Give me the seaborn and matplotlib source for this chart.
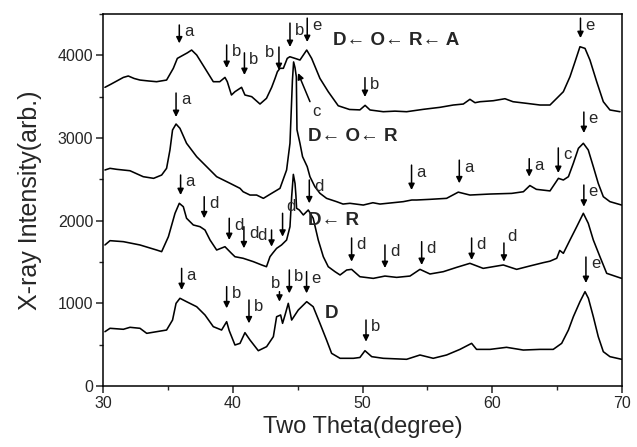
import numpy as np
import pandas as pd
import matplotlib
matplotlib.use("Agg")
import matplotlib.pyplot as plt
from matplotlib.ticker import MultipleLocator
import seaborn as sns

# ---- XRD patterns (two-theta in degrees, intensity in arb. units) ----
tt_dora = [30.15, 30.6, 31.57, 31.95, 32.4, 32.85, 33.5, 34.13, 34.9, 35.42, 35.73, 36.06,
           36.5, 36.83, 37.22, 37.86, 38.5, 39.0, 39.4, 39.58, 39.9, 40.17, 40.68, 40.94,
           41.46, 42.1, 42.6, 43.0, 43.26, 43.44, 43.64, 43.9, 44.2, 44.4, 44.8, 45.18,
           45.7, 46.08, 46.72, 47.36, 48.13, 49.0, 49.8, 50.2, 50.58, 51.6, 52.5, 53.4,
           54.7, 55.97, 57.0, 57.77, 58.28, 58.67, 59.06, 60.08, 60.98, 61.6, 62.66, 63.68,
           64.45, 64.97, 65.48, 65.99, 66.38, 66.76, 67.15, 67.53, 68.05, 68.56, 69.07, 69.85]
i_dora = [3613, 3650, 3733, 3750, 3720, 3701, 3690, 3681, 3701, 3843, 3963, 3992,
          4030, 4064, 4004, 3843, 3681, 3681, 3733, 3681, 3520, 3560, 3613, 3520,
          3500, 3411, 3480, 3613, 3721, 3802, 3843, 3843, 3963, 3983, 3963, 3943,
          4064, 3963, 3721, 3560, 3390, 3345, 3340, 3395, 3339, 3318, 3325, 3318,
          3347, 3371, 3399, 3411, 3468, 3427, 3439, 3451, 3475, 3439, 3419, 3399,
          3399, 3480, 3560, 3741, 3923, 4104, 4084, 3943, 3681, 3439, 3339, 3318]

tt_dor = [30.15, 30.54, 31.06, 32.08, 33.1, 33.9, 34.52, 34.9, 35.16, 35.36, 35.63, 35.93,
          36.44, 37.22, 37.99, 38.76, 39.79, 40.56, 40.8, 41.33, 41.84, 42.36, 43.0, 43.64,
          44.15, 44.41, 44.6, 44.69, 44.8, 44.9, 44.95, 45.18, 45.38, 45.74, 45.95, 46.33,
          46.72, 47.23, 48.0, 48.5, 49.03, 50.06, 50.8, 51.35, 53.14, 53.8, 54.17, 55.2,
          56.48, 57.38, 58.28, 59.8, 61.5, 62.4, 62.9, 63.4, 64.45, 65.1, 65.48, 65.87,
          66.25, 66.64, 67.02, 67.4, 67.79, 68.17, 68.56, 69.07, 69.97]
i_dor = [2613, 2633, 2621, 2604, 2532, 2512, 2552, 2633, 2855, 3097, 3169, 3117,
         2936, 2774, 2653, 2532, 2452, 2391, 2350, 2310, 2310, 2270, 2331, 2391,
         2613, 2936, 3700, 3920, 3850, 3740, 3100, 2936, 2774, 2653, 2532, 2411,
         2331, 2270, 2230, 2201, 2210, 2189, 2217, 2201, 2230, 2250, 2250, 2258,
         2270, 2345, 2310, 2322, 2330, 2350, 2425, 2379, 2360, 2512, 2492, 2532,
         2694, 2875, 2936, 2855, 2653, 2451, 2290, 2230, 2189]

tt_dr = [30.15, 30.54, 31.57, 32.85, 34.13, 34.52, 35.04, 35.55, 35.88, 36.19, 36.44, 36.96,
         37.48, 37.86, 38.25, 38.76, 39.4, 39.9, 40.17, 40.8, 41.59, 42.23, 42.6, 42.87,
         43.07, 43.38, 43.76, 44.15, 44.41, 44.54, 44.67, 44.8, 44.87, 44.92, 45.13, 45.44,
         45.82, 46.2, 46.59, 46.98, 47.36, 47.88, 48.27, 48.78, 49.16, 49.8, 50.83, 51.73,
         52.63, 53.66, 54.43, 55.2, 56.23, 57.25, 58.28, 59.3, 60.85, 61.88, 62.9, 63.93,
         64.45, 64.97, 65.2, 65.48, 65.99, 66.51, 67.02, 67.4, 67.79, 68.3, 68.82, 69.59, 69.97]
i_dr = [1706, 1758, 1746, 1706, 1645, 1625, 1806, 2089, 2210, 2169, 2029, 1948,
        1927, 1887, 1766, 1645, 1685, 1605, 1564, 1545, 1504, 1464, 1443, 1564,
        1605, 1665, 1706, 1766, 1927, 2290, 2560, 2450, 2300, 2150, 2129, 2069,
        2129, 2029, 1766, 1564, 1443, 1383, 1343, 1403, 1411, 1322, 1302, 1330,
        1314, 1330, 1411, 1355, 1383, 1435, 1484, 1423, 1464, 1411, 1452, 1492,
        1510, 1545, 1640, 1605, 1766, 1927, 2089, 1968, 1766, 1564, 1363, 1322, 1302]

tt_d = [30.15, 30.54, 31.57, 32.08, 32.85, 33.37, 34.13, 34.9, 35.36, 35.63, 35.93, 36.44,
        37.22, 37.86, 38.5, 39.14, 39.53, 39.73, 40.17, 40.56, 40.94, 41.33, 41.97, 42.61,
        43.13, 43.38, 43.69, 43.84, 44.03, 44.28, 44.54, 45.05, 45.7, 46.2, 46.72, 47.23,
        47.62, 48.27, 49.3, 49.8, 50.19, 50.71, 51.6, 53.4, 54.43, 55.45, 56.48, 57.51,
        58.41, 58.79, 59.83, 61.1, 62.39, 63.68, 64.7, 65.35, 65.87, 66.25, 66.76, 67.15,
        67.41, 67.79, 68.17, 68.56, 69.07, 69.97]
i_d = [657, 698, 686, 710, 698, 637, 657, 677, 798, 1000, 1061, 1020,
       959, 859, 718, 677, 778, 669, 496, 516, 645, 556, 427, 476,
       597, 838, 859, 758, 859, 1000, 798, 919, 1020, 959, 758, 556,
       395, 335, 335, 345, 427, 355, 335, 323, 375, 335, 375, 443,
       516, 443, 443, 468, 435, 443, 443, 516, 677, 838, 1020, 1141,
       1061, 838, 597, 415, 355, 323]

curve_names = ["D\u2190 O\u2190 R\u2190 A", "D\u2190 O\u2190 R", "D\u2190 R", "D"]

# Phase markers: (letter, two-theta, arrow tip intensity, arrow tail intensity, label side)
marks_dora = [("a", 35.88, 4145, 4367, "r"), ("b", 39.53, 3847, 4125, "r"),
              ("b", 40.90, 3762, 4030, "r"), ("b", 43.56, 3822, 4100, "l"),
              ("b", 44.41, 4101, 4390, "r"), ("e", 45.74, 4161, 4450, "r"),
              ("b", 50.19, 3496, 3730, "r"), ("e", 66.80, 4209, 4450, "r")]
marks_dor = [("a", 35.63, 3254, 3544, "r"), ("a", 53.78, 2371, 2672, "r"),
             ("a", 57.46, 2452, 2732, "r"), ("a", 62.85, 2532, 2750, "r"),
             ("c", 65.09, 2577, 2880, "r"), ("e", 67.06, 3060, 3314, "r")]
marks_dr = [("a", 35.98, 2310, 2552, "r"), ("d", 37.80, 2029, 2290, "r"),
            ("d", 39.73, 1766, 2029, "r"), ("d", 40.86, 1666, 1927, "r"),
            ("d", 42.99, 1685, 1887, "l"), ("d", 43.84, 1806, 2089, "u"),
            ("d", 45.90, 2210, 2492, "r"), ("d", 49.16, 1504, 1790, "r"),
            ("d", 51.73, 1427, 1706, "r"), ("d", 54.56, 1464, 1746, "r"),
            ("d", 58.41, 1524, 1790, "r"), ("d", 60.90, 1504, 1730, "u"),
            ("e", 67.06, 2169, 2431, "r")]
marks_d = [("a", 36.06, 1161, 1423, "r"), ("b", 39.53, 940, 1202, "r"),
           ("b", 41.25, 758, 1040, "r"), ("b", 43.60, 1020, 1141, "t"),
           ("b", 44.36, 1121, 1403, "r"), ("e", 45.69, 1121, 1383, "r"),
           ("b", 50.27, 536, 798, "r"), ("e", 67.22, 1246, 1560, "r")]

# ---- style ----
sns.set_style("ticks")
plt.rcParams["font.family"] = ["Liberation Sans", "DejaVu Sans"]
plt.rcParams["axes.linewidth"] = 1.1

fig = plt.figure(figsize=(6.37, 4.47), dpi=100)
ax = fig.add_axes([103 / 637, 1 - 386 / 447, 519 / 637, 372 / 447])

for tt, inten in [(tt_dora, i_dora), (tt_dor, i_dor), (tt_dr, i_dr), (tt_d, i_d)]:
    df = pd.DataFrame({"tt": tt, "I": inten})
    sns.lineplot(data=df, x="tt", y="I", ax=ax, color="black", lw=1.15,
                 estimator=None, sort=False)

ax.set_xlim(30, 70)
ax.set_ylim(0, 4500)
ax.xaxis.set_major_locator(MultipleLocator(10))
ax.xaxis.set_minor_locator(MultipleLocator(5))
ax.yaxis.set_major_locator(MultipleLocator(1000))
ax.yaxis.set_minor_locator(MultipleLocator(500))
ax.tick_params(which="major", direction="out", length=5, width=1.1,
               labelsize=11.5, pad=2)
ax.tick_params(which="minor", direction="out", length=3, width=1.0)
for s in ax.spines.values():
    s.set_visible(True)
    s.set_color("black")

ax.set_xlabel("Two Theta(degree)", fontsize=17, labelpad=4)
ax.set_ylabel("X-ray Intensity(arb.)", fontsize=18, labelpad=11)

# ---- phase markers ----
arrow_kw = dict(arrowstyle="-|>", color="black", lw=1.1, mutation_scale=9,
                shrinkA=0, shrinkB=0)
label_offsets = {"r": ((3.5, -5), "left", "center"),
                 "l": ((-3.5, -4), "right", "center"),
                 "u": ((2.5, 5), "left", "center"),
                 "t": ((-3, 6), "center", "center")}
for marks in (marks_dora, marks_dor, marks_dr, marks_d):
    for letter, x, tip, tail, side in marks:
        ax.annotate("", xy=(x, tip), xytext=(x, tail), arrowprops=arrow_kw)
        off, ha, va = label_offsets[side]
        ax.annotate(letter, xy=(x, tail), xytext=off, textcoords="offset points",
                    ha=ha, va=va, fontsize=12)

# shoulder marker pointing onto the side of the main D-O-R reflection
ax.annotate("", xy=(45.03, 3786), xytext=(45.95, 3440), arrowprops=arrow_kw)
ax.text(46.46, 3318, "c", fontsize=12, ha="center", va="center")

# ---- sample labels ----
label_pos = [(47.73, 4185), (45.8, 3020), (45.8, 2008), (47.1, 883)]
for name, (x, y) in zip(curve_names, label_pos):
    ax.text(x, y, name, fontsize=13.5, fontweight="bold", ha="left", va="center")

fig.savefig("out.png", dpi=100)
